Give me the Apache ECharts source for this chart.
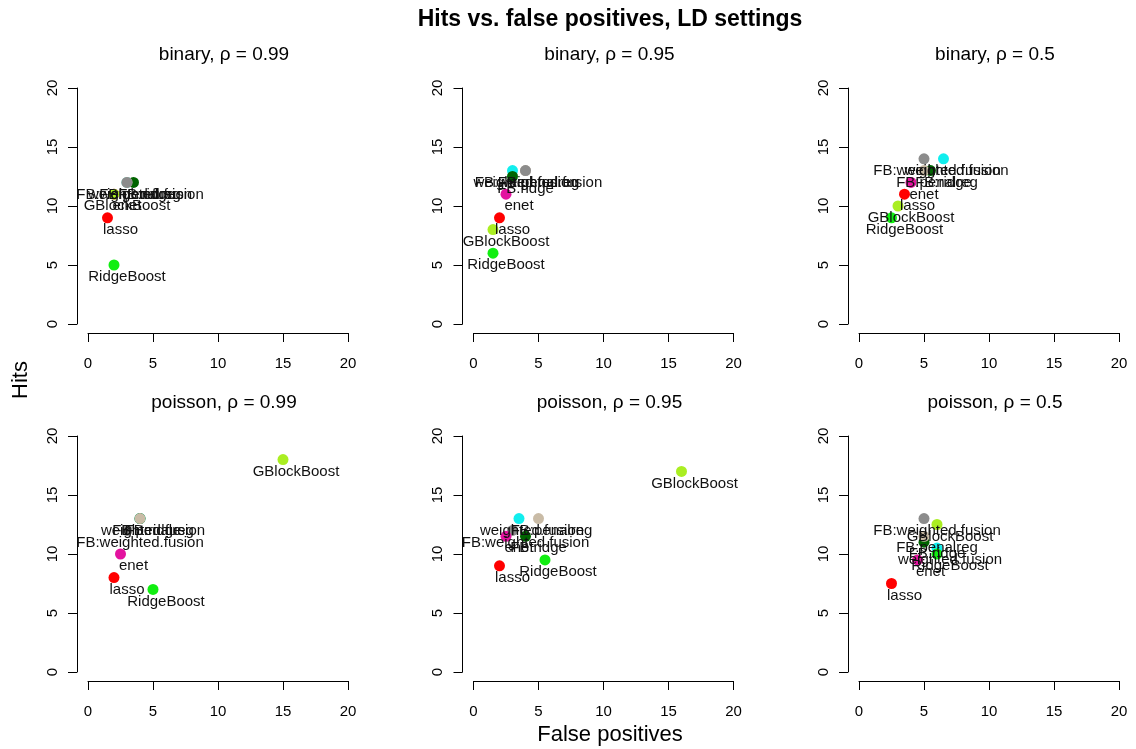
<!DOCTYPE html>
<html>
<head>
<meta charset="utf-8">
<script src="https://cdn.jsdelivr.net/npm/echarts@6/dist/echarts.min.js"></script>
<style>
  html, body { margin: 0; padding: 0; background: #ffffff; }
  #chart { width: 1136px; height: 749px; }
</style>
</head>
<body>
<div id="chart"></div>
<script>
// Methods, in drawing order (later ones are drawn on top)
const methods = ['weighted.fusion', 'FB:ridge', 'FB:penalreg', 'FB:weighted.fusion',
                 'lasso', 'enet', 'RidgeBoost', 'GBlockBoost'];
const methodColors = ['#11eeee', '#006400', '#c9bba6', '#8c8c8c',
                      '#ff0000', '#e3139f', '#11ee11', '#aaee22'];

const panelTitles = ['binary, ρ = 0.99', 'binary, ρ = 0.95', 'binary, ρ = 0.5',
                     'poisson, ρ = 0.99', 'poisson, ρ = 0.95', 'poisson, ρ = 0.5'];

// False positives / hits per method (same order as `methods`)
const fpBinary099   = [3,   3.5,  3,  3,  1.5, 2,    2,   2];
const hitsBinary099 = [12,  12,   12, 12, 9,   11,   5,   11];
const fpBinary095   = [3,   3,    4,  4,  2,   2.5,  1.5, 1.5];
const hitsBinary095 = [13,  12.5, 13, 13, 9,   11,   6,   8];
const fpBinary05    = [6.5, 5.5,  5,  5,  3.5, 4,    2.5, 3];
const hitsBinary05  = [14,  13,   13, 14, 11,  12,   9,   10];
const fpPoisson099   = [4,   4,    4,    3,  2,   2.5,  5,   15];
const hitsPoisson099 = [13,  13,   13,   12, 8,   10,   7,   18];
const fpPoisson095   = [3.5, 4,    5,    3,  2,   2.5,  5.5, 16];
const hitsPoisson095 = [13,  11.5, 13,   12, 9,   11.5, 9.5, 17];
const fpPoisson05    = [6,   5,    5,    5,  2.5, 4.5,  6,   6];
const hitsPoisson05  = [10.5, 11,  11.5, 13, 7.5, 9.5,  10,  12.5];

const panelFP   = [fpBinary099, fpBinary095, fpBinary05, fpPoisson099, fpPoisson095, fpPoisson05];
const panelHits = [hitsBinary099, hitsBinary095, hitsBinary05, hitsPoisson099, hitsPoisson095, hitsPoisson05];

const axisMin = 0, axisMax = 20, axisStep = 5;

const FONT = '"Liberation Sans", Arial, Helvetica, sans-serif';

// Panel geometry: 3 columns x 2 rows
const plotLeft0 = 88, colStep = 385.5, plotTop0 = 88, rowStep = 348;
const plotW = 260, plotH = 236;

const grids = [], xAxes = [], yAxes = [], series = [], graphics = [];

panelTitles.forEach((title, p) => {
  const col = p % 3, row = Math.floor(p / 3);
  const left = plotLeft0 + col * colStep;
  const top = plotTop0 + row * rowStep;
  grids.push({ left: left, top: top, width: plotW, height: plotH, containLabel: false });

  const axisCommon = {
    gridIndex: p, type: 'value', min: axisMin, max: axisMax, interval: axisStep,
    splitLine: { show: false },
    axisLine: { show: true, onZero: false, lineStyle: { color: '#000', width: 1 } },
    axisTick: { show: true, inside: false, length: 9, lineStyle: { color: '#000', width: 1 } },
  };
  xAxes.push(Object.assign({}, axisCommon, {
    position: 'bottom', offset: 9,
    axisLabel: { color: '#000', fontFamily: FONT, fontSize: 15, margin: 23 }
  }));
  yAxes.push(Object.assign({}, axisCommon, {
    position: 'left', offset: 11,
    axisLabel: { color: '#000', fontFamily: FONT, fontSize: 15, margin: 17, rotate: 90 }
  }));

  // panel heading, centred over the plotting region
  graphics.push({
    type: 'text', x: left + plotW / 2 + 6, y: top - 33,
    style: { text: title, font: '19px ' + FONT, fill: '#000',
             textAlign: 'center', textVerticalAlign: 'middle' }
  });

  methods.forEach((m, i) => {
    series.push({
      type: 'scatter', name: m, xAxisIndex: p, yAxisIndex: p, clip: false,
      symbol: 'circle', symbolSize: 11,
      itemStyle: { color: methodColors[i], opacity: 1 },
      data: [[panelFP[p][i], panelHits[p][i]]],
      label: {
        show: true, position: 'inside', offset: [13, 12],
        formatter: m, color: '#111', fontFamily: FONT, fontSize: 15
      },
      emphasis: { disabled: true },
      silent: true, animation: false
    });
  });
});

// outer titles
graphics.push({
  type: 'text', x: 610, y: 20,
  style: { text: 'Hits vs. false positives, LD settings', font: 'bold 23px ' + FONT,
           fill: '#000', textAlign: 'center', textVerticalAlign: 'middle' }
});
graphics.push({
  type: 'text', x: 610, y: 735,
  style: { text: 'False positives', font: '22px ' + FONT,
           fill: '#000', textAlign: 'center', textVerticalAlign: 'middle' }
});
graphics.push({
  type: 'text', x: 21, y: 380, rotation: Math.PI / 2,
  style: { text: 'Hits', font: '22px ' + FONT,
           fill: '#000', textAlign: 'center', textVerticalAlign: 'middle' }
});

const chart = echarts.init(document.getElementById('chart'), null, { renderer: 'canvas' });
chart.setOption({
  backgroundColor: '#ffffff',
  animation: false,
  grid: grids,
  xAxis: xAxes,
  yAxis: yAxes,
  series: series,
  graphic: graphics
});
</script>
</body>
</html>
